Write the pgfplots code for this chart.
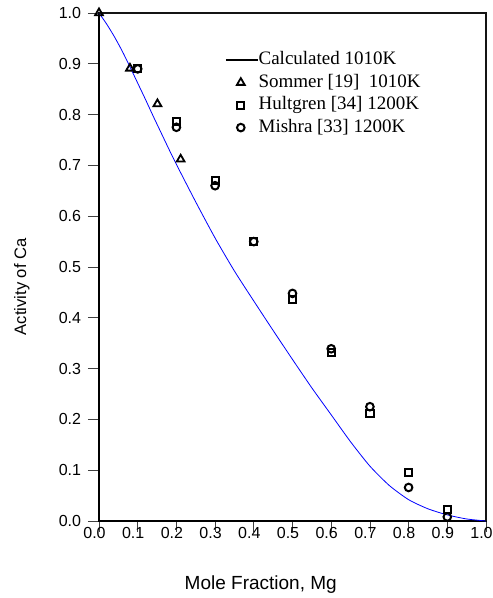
\documentclass[border=0pt]{standalone}
\usepackage{pgfplots}
\pgfplotsset{compat=1.18}
\usepackage{fontspec}
\setmainfont{Liberation Sans}
\newfontfamily\timesfont{Liberation Serif}
\definecolor{framecol}{RGB}{20,20,20}
\pgfplotsset{
  markleg/.style={legend image code/.code={\path[draw=none,fill=none] (0bp,0bp) -- (32bp,0bp); \draw[##1] plot coordinates {(15bp,0bp)};}},
  lineleg/.style={legend image code/.code={\draw[black, line width=1.6bp] (0bp,0bp) -- (32bp,0bp);}},
}
\begin{document}
\begin{tikzpicture}
\begin{axis}[
  name=ax,
  at={(0,0)}, anchor=south west,
  scale only axis, width=387bp, height=508bp,
  xmin=0, xmax=1, ymin=0, ymax=1,
  clip=false,
  xtick={0,0.1,0.2,0.3,0.4,0.5,0.6,0.7,0.8,0.9,1},
  ytick={0,0.1,0.2,0.3,0.4,0.5,0.6,0.7,0.8,0.9,1},
  tick align=outside, major tick length=11bp,
  xtick pos=bottom, ytick pos=left,
  axis line style={line width=1.5bp, draw=black},
  every tick/.style={line width=0.8bp, black!75},
  tick label style={font=\fontsize{16bp}{19bp}\selectfont},
  xticklabel style={yshift=8.5bp, xshift=-4.5bp},
  yticklabel style={xshift=-3.4bp},
  /pgf/number format/fixed, /pgf/number format/fixed zerofill,
  /pgf/number format/precision=1, /pgf/number format/assume math mode=true,
  xlabel={Mole Fraction, Mg}, ylabel={Activity of Ca},
  xlabel style={at={(axis description cs:0.418,-0.13445)}, anchor=base, font=\fontsize{19bp}{22bp}\selectfont},
  ylabel style={at={(axis description cs:-0.1886,0.461)}, anchor=base, font=\fontsize{16.6bp}{20bp}\selectfont},
  legend style={draw=none, fill=none, at={(axis description cs:0.3256,0.924)}, anchor=north west,
    inner sep=0pt, outer sep=0pt, row sep=5.5bp, column sep=0bp,
    font=\timesfont\fontsize{19bp}{22bp}\selectfont,
    nodes={inner sep=0pt, text height=13bp, text depth=4bp}},
  legend cell align=left,
]
\addplot[blue, line width=0.8bp, smooth, tension=0.4, lineleg]
  coordinates {
  (0.00,1.000) (0.02,0.978) (0.04,0.953) (0.06,0.925) (0.08,0.894)
  (0.10,0.862) (0.12,0.830) (0.14,0.797) (0.16,0.765) (0.18,0.733)
  (0.20,0.702) (0.25,0.628) (0.30,0.557) (0.35,0.492) (0.40,0.433)
  (0.45,0.375) (0.50,0.318) (0.55,0.262) (0.60,0.209) (0.65,0.156)
  (0.70,0.108) (0.75,0.070) (0.80,0.042) (0.85,0.024) (0.90,0.012)
  (0.95,0.004) (1.00,0.000)};
\addlegendentry{Calculated 1010K}
\addplot[only marks, mark=triangle, mark size=4.5bp, black, mark options={solid, line width=1.8bp}, markleg]
  coordinates {(0,1.0) (0.08,0.891) (0.151,0.821) (0.211,0.712)};
\addlegendentry{Sommer [19]\ \ 1010K}
\addplot[only marks, mark=square, mark size=3.6bp, black, mark options={solid, line width=2bp}, markleg]
  coordinates {(0.1,0.890) (0.2,0.787) (0.3,0.671) (0.4,0.550) (0.5,0.436)
  (0.6,0.332) (0.7,0.212) (0.8,0.096) (0.9,0.023)};
\addlegendentry{Hultgren [34] 1200K}
\addplot[only marks, mark=o, mark size=3.8bp, black, mark options={solid, line width=2bp}, markleg]
  coordinates {(0.1,0.890) (0.2,0.775) (0.3,0.660) (0.4,0.550) (0.5,0.448)
  (0.6,0.339) (0.7,0.225) (0.8,0.066) (0.9,0.008)};
\addlegendentry{Mishra [33] 1200K}
\draw[line width=2bp, draw=framecol] (rel axis cs:0,1) -- (rel axis cs:1,1) -- (rel axis cs:1,0);
\end{axis}
\pgfresetboundingbox
\path[use as bounding box] (-99bp,-77bp) rectangle (394bp,521bp);
\end{tikzpicture}
\end{document}
